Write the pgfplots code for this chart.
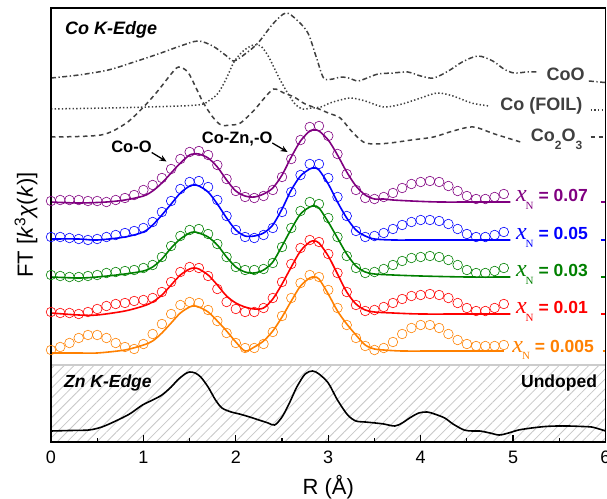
\documentclass[border=0pt]{standalone}
\usepackage{fontspec}
\setmainfont{Liberation Sans}
\newfontfamily\seriffont{Liberation Serif}
\usepackage{pgfplots}
\pgfplotsset{compat=1.18}
\usetikzlibrary{patterns.meta,arrows.meta}
\definecolor{cpurple}{RGB}{128,0,128}
\definecolor{cblue}{RGB}{0,0,255}
\definecolor{cgreen}{RGB}{0,128,0}
\definecolor{cred}{RGB}{255,0,0}
\definecolor{corange}{RGB}{255,128,0}
\definecolor{refgray}{RGB}{64,64,64}
\newcommand{\xN}[1]{{\seriffont\itshape\fontsize{24bp}{24bp}\selectfont x}\kern-1bp\raisebox{-7.5bp}{\seriffont\fontsize{11bp}{11bp}\selectfont N}\kern5bp{\bfseries\fontsize{17.5bp}{17.5bp}\selectfont = #1}}
\begin{document}
\begin{tikzpicture}
\useasboundingbox (-51bp,-57bp) rectangle (556bp,442bp);
\begin{axis}[
  at={(0,0)}, anchor=south west, scale only axis,
  width=554.5bp, height=434bp,
  xmin=0, xmax=6, ymin=0, ymax=434,
  axis on top,
  axis line style={line width=1.8bp},
  ytick=\empty,
  xtick={0,1,2,3,4,5,6}, minor x tick num=1, xtick pos=bottom,
  tick align=inside, major tick length=7bp, minor tick length=4bp,
  tick style={black, line width=1.2bp},
  /pgf/number format/assume math mode=true,
  xticklabel style={font=\fontsize{18bp}{18bp}\selectfont, anchor=base, yshift=-21bp},
  xlabel={R (Å)},
  xlabel style={font=\fontsize{22bp}{22bp}\selectfont, at={(axis description cs:0.5,0)}, anchor=base, yshift=-52bp},
  ylabel={FT [\textit{k}\textsuperscript{3}\textit{χ}(\textit{k})]},
  ylabel style={font=\fontsize{22bp}{22bp}\selectfont, at={(axis description cs:-0.045,0.5)}, anchor=center},
  clip=true,
]
% hatched Zn region
\addplot[draw=none, pattern={Lines[angle=45, distance=7bp, line width=0.8bp]}, pattern color=black!22] coordinates {(0,0)(6,0)(6,77)(0,77)} -- cycle;
\addplot[black!20, line width=1.6bp] coordinates {(0,77)(6,77)};
% Zn K-edge
\addplot[black, line width=1.6bp, smooth] coordinates {
(0,11)(0.2,11.5)(0.41,12)(0.55,15)(0.7,21)(0.85,28)(0.99,37)(1.1,42)(1.2,47)(1.3,55)(1.37,62)(1.45,68)(1.5,70)(1.56,69)(1.62,65)(1.7,55)(1.78,42)(1.85,34)(1.95,30)(2.04,28)(2.15,25)(2.25,22)(2.35,19)(2.42,17)(2.5,25)(2.58,39)(2.66,55)(2.75,68)(2.83,71)(2.9,68)(3.0,59)(3.1,42)(3.21,27)(3.3,21)(3.4,20)(3.51,19)(3.6,18)(3.72,16)(3.8,19)(3.88,24)(3.98,29)(4.07,30)(4.15,28)(4.26,24)(4.35,18)(4.47,12)(4.56,11)(4.64,11)(4.75,9)(4.85,7)(4.95,9)(5.06,12)(5.2,14)(5.35,15.5)(5.48,16)(5.6,16)(5.75,15.5)(5.85,15)(5.95,12.5)(6,11)};
% reference spectra
\addplot[refgray, line width=1.5bp, smooth, dash pattern=on 5bp off 2.5bp on 1.3bp off 2.5bp] coordinates {
(0,364)(0.3,367)(0.62,372)(0.9,380)(1.19,389)(1.4,396)(1.59,401)(1.75,396)(1.9,386)(1.98,381)(2.1,388)(2.24,399)(2.4,418)(2.54,429)(2.66,422)(2.78,409)(2.87,385)(2.95,364)(3.05,363)(3.13,365)(3.22,364)(3.32,361)(3.42,364)(3.54,368)(3.7,369)(3.86,370)(4.0,366)(4.14,364)(4.3,371)(4.45,380)(4.62,386)(4.78,381)(4.9,373)(5.01,369)(5.15,370)(5.27,370)};
\addplot[refgray, line width=1.5bp, dash pattern=on 5bp off 2.5bp on 1.3bp off 2.5bp] coordinates {(5.82,361)(6.05,359)};
\addplot[refgray, line width=1.5bp, smooth, dash pattern=on 1.4bp off 2.2bp] coordinates {
(0,333)(0.62,334)(1.05,335)(1.59,337)(1.72,342)(1.81,349)(1.9,364)(1.98,380)(2.08,391)(2.19,397)(2.27,396)(2.35,386)(2.41,375)(2.48,362)(2.56,349)(2.64,338)(2.72,333)(2.82,334)(2.92,335)(3.02,339)(3.13,342)(3.25,344)(3.4,341)(3.6,335)(3.8,338)(4.0,344)(4.18,349)(4.35,346)(4.55,339)(4.74,336)};
\addplot[refgray, line width=1.5bp, dash pattern=on 1.4bp off 2.2bp] coordinates {(5.84,332)(6.05,332)};
\addplot[refgray, line width=1.5bp, smooth, dash pattern=on 4.5bp off 3.5bp] coordinates {
(0,305)(0.54,307)(0.8,318)(0.97,332)(1.1,345)(1.19,355)(1.3,368)(1.38,375)(1.48,370)(1.57,354)(1.65,339)(1.75,325)(1.84,317)(1.95,317)(2.05,319)(2.2,332)(2.3,343)(2.41,353)(2.52,349)(2.63,345)(2.75,338)(2.9,333)(3.0,329)(3.13,324)(3.25,311)(3.38,300)(3.5,298)(3.67,299)(3.9,302)(4.14,305)(4.35,311)(4.57,315)(4.8,308)(5.08,300)};
\addplot[refgray, line width=1.5bp, dash pattern=on 4.5bp off 3.5bp] coordinates {(5.84,305)(6.05,305)};
% ---- x = 0.07 (purple)
\addplot[cpurple, only marks, mark=o, mark size=4.8bp, mark options={line width=0.6bp}] coordinates {
(0,241)(0.1,242)(0.2,242)(0.3,242)(0.4,241)(0.5,241)(0.6,240)(0.7,242)(0.8,244)(0.9,247)(1.0,252)(1.1,257)(1.2,264)(1.3,273)(1.4,283)(1.5,290)(1.6,291)(1.7,287)(1.8,277)(1.9,263)(2.0,251)(2.1,245)(2.2,244)(2.3,246)(2.4,252)(2.5,265)(2.6,283)(2.7,302)(2.8,315)(2.9,316)(3.0,306)(3.1,288)(3.2,268)(3.3,252)(3.4,244)(3.5,243)(3.6,245)(3.7,249)(3.8,254)(3.9,258)(4.0,260)(4.1,261)(4.2,260)(4.3,256)(4.4,251)(4.5,246)(4.6,243)(4.7,243)(4.8,245)(4.9,248)};
\addplot[cpurple, line width=1.6bp, smooth] coordinates {
(0,240)(0.3,239)(0.6,240)(0.8,242)(1.0,246)(1.1,251)(1.2,259)(1.3,269)(1.4,279)(1.5,287)(1.55,288)(1.6,288)(1.7,284)(1.8,275)(1.9,262)(2.0,251)(2.1,246)(2.2,245)(2.3,248)(2.4,254)(2.5,267)(2.6,285)(2.7,301)(2.8,311)(2.85,312)(2.9,311)(3.0,302)(3.1,287)(3.2,270)(3.3,256)(3.4,247)(3.5,243)(3.6,243)(3.7,242)(3.9,241)(4.2,240)(4.6,240)(4.97,240)};
% ---- x = 0.05 (blue)
\addplot[cblue, only marks, mark=o, mark size=4.8bp, mark options={line width=0.6bp}] coordinates {
(0,205)(0.1,205)(0.2,204)(0.3,203)(0.4,202)(0.5,203)(0.6,205)(0.7,207)(0.8,209)(0.9,211)(1.0,214)(1.1,220)(1.2,230)(1.3,241)(1.4,253)(1.5,260)(1.6,261)(1.7,255)(1.8,242)(1.9,226)(2.0,212)(2.1,205)(2.2,204)(2.3,207)(2.4,214)(2.5,230)(2.6,250)(2.7,267)(2.8,278)(2.9,278)(3.0,264)(3.1,245)(3.2,226)(3.3,211)(3.4,205)(3.5,206)(3.6,209)(3.7,213)(3.8,217)(3.9,220)(4.0,222)(4.1,222)(4.2,221)(4.3,218)(4.4,213)(4.5,208)(4.6,205)(4.7,205)(4.8,207)(4.9,210)};
\addplot[cblue, line width=1.6bp, smooth] coordinates {
(0,203)(0.3,203)(0.5,202)(0.8,205)(1.0,210)(1.1,217)(1.2,227)(1.3,238)(1.4,249)(1.5,256)(1.55,257)(1.6,256)(1.7,250)(1.8,238)(1.9,224)(2.0,212)(2.1,206)(2.2,206)(2.3,209)(2.4,217)(2.5,233)(2.6,252)(2.7,266)(2.8,273)(2.85,274)(2.9,272)(3.0,258)(3.1,240)(3.2,224)(3.3,212)(3.4,206)(3.5,203)(3.7,202)(4.0,202)(4.5,202)(4.97,202)};
% ---- x = 0.03 (green)
\addplot[cgreen, only marks, mark=o, mark size=4.8bp, mark options={line width=0.6bp}] coordinates {
(0,167)(0.1,166)(0.2,165)(0.3,165)(0.4,166)(0.5,167)(0.6,169)(0.7,170)(0.8,171)(0.9,172)(1.0,174)(1.1,177)(1.2,185)(1.3,196)(1.4,206)(1.5,212)(1.6,213)(1.7,208)(1.8,198)(1.9,185)(2.0,175)(2.1,172)(2.2,172)(2.3,173)(2.4,179)(2.5,195)(2.6,214)(2.7,231)(2.8,240)(2.9,238)(3.0,224)(3.1,205)(3.2,186)(3.3,174)(3.4,169)(3.5,170)(3.6,173)(3.7,177)(3.8,181)(3.9,184)(4.0,185)(4.1,186)(4.2,185)(4.3,182)(4.4,177)(4.5,172)(4.6,169)(4.7,169)(4.8,171)(4.9,174)};
\addplot[cgreen, line width=1.6bp, smooth] coordinates {
(0,165)(0.3,164)(0.5,165)(0.8,168)(1.0,171)(1.1,175)(1.2,183)(1.3,194)(1.4,203)(1.5,209)(1.55,210)(1.6,209)(1.7,205)(1.8,197)(1.9,185)(2.0,175)(2.1,170)(2.2,169)(2.3,172)(2.4,180)(2.5,196)(2.6,213)(2.7,228)(2.8,235)(2.85,236)(2.9,234)(3.0,220)(3.1,204)(3.2,188)(3.3,176)(3.4,170)(3.5,168)(3.7,167)(4.0,166)(4.5,165)(4.97,165)};
% ---- x = 0.01 (red)
\addplot[cred, only marks, mark=o, mark size=4.8bp, mark options={line width=0.6bp}] coordinates {
(0,130)(0.1,129)(0.2,129)(0.3,128)(0.4,130)(0.5,133)(0.6,136)(0.7,138)(0.8,139)(0.9,141)(1.0,142)(1.1,144)(1.2,150)(1.3,160)(1.4,170)(1.5,175)(1.6,174)(1.7,166)(1.8,153)(1.9,140)(2.0,133)(2.1,130)(2.2,130)(2.3,134)(2.4,144)(2.5,160)(2.6,178)(2.7,194)(2.8,202)(2.9,200)(3.0,188)(3.1,169)(3.2,150)(3.3,137)(3.4,131)(3.5,132)(3.6,135)(3.7,139)(3.8,143)(3.9,146)(4.0,147)(4.1,148)(4.2,147)(4.3,144)(4.4,139)(4.5,134)(4.6,131)(4.7,131)(4.8,134)(4.9,138)};
\addplot[cred, line width=1.6bp, smooth] coordinates {
(0,129)(0.3,127)(0.5,127)(0.8,131)(1.0,136)(1.1,140)(1.2,147)(1.3,157)(1.4,167)(1.5,173)(1.55,174)(1.6,173)(1.7,167)(1.8,157)(1.9,146)(2.0,139)(2.1,135)(2.2,133)(2.3,134)(2.4,143)(2.5,158)(2.6,175)(2.7,191)(2.8,200)(2.85,201)(2.9,199)(3.0,186)(3.1,168)(3.2,150)(3.3,138)(3.4,132)(3.5,130)(3.7,129)(4.0,128)(4.5,128)(4.97,128)};
% ---- x = 0.005 (orange)
\addplot[corange, only marks, mark=o, mark size=4.8bp, mark options={line width=0.6bp}] coordinates {
(0,92)(0.1,95)(0.2,99)(0.3,104)(0.4,107)(0.5,107)(0.6,104)(0.7,99)(0.8,95)(0.9,93)(1.0,98)(1.1,108)(1.2,118)(1.3,128)(1.4,137)(1.5,140)(1.6,139)(1.7,132)(1.8,121)(1.9,109)(2.0,99)(2.1,94)(2.2,94)(2.3,98)(2.4,110)(2.5,126)(2.6,144)(2.7,159)(2.8,167)(2.9,165)(3.0,152)(3.1,134)(3.2,117)(3.3,104)(3.4,96)(3.5,92)(3.6,94)(3.7,100)(3.8,108)(3.9,114)(4.0,117)(4.1,117)(4.2,114)(4.3,108)(4.4,102)(4.5,98)(4.6,96)(4.7,96)(4.8,96)(4.9,97)};
\addplot[corange, line width=1.6bp, smooth] coordinates {
(0,89)(0.3,89)(0.5,89)(0.8,92)(1.0,97)(1.1,101)(1.2,109)(1.3,119)(1.4,129)(1.5,135)(1.55,136)(1.6,135)(1.7,130)(1.8,121)(1.9,111)(2.0,100)(2.1,91)(2.2,95)(2.3,101)(2.4,111)(2.5,125)(2.6,141)(2.7,156)(2.8,164)(2.85,165)(2.9,163)(3.0,148)(3.1,131)(3.2,118)(3.3,107)(3.4,97)(3.5,93)(3.6,92)(3.8,91)(4.2,91)(4.6,91)(4.9,91)};
% clipped legend samples at right edge
\addplot[cpurple, line width=1.4bp] coordinates {(5.95,240)(6.1,240)};
\addplot[cpurple, only marks, mark=o, mark size=4bp, mark options={line width=0.6bp}] coordinates {(6.02,244)};
\addplot[cblue, line width=1.4bp] coordinates {(5.95,202)(6.1,202)};
\addplot[cblue, only marks, mark=o, mark size=4bp, mark options={line width=0.6bp}] coordinates {(6.02,206)};
\addplot[cgreen, line width=1.4bp] coordinates {(5.95,165)(6.1,165)};
\addplot[cgreen, only marks, mark=o, mark size=4bp, mark options={line width=0.6bp}] coordinates {(6.02,169)};
\addplot[cred, line width=1.4bp] coordinates {(5.95,128)(6.1,128)};
\addplot[cred, only marks, mark=o, mark size=4bp, mark options={line width=0.6bp}] coordinates {(6.02,132)};
\addplot[corange, line width=1.4bp] coordinates {(5.97,91)(6.1,91)};
\addplot[corange, only marks, mark=o, mark size=4bp, mark options={line width=0.6bp}] coordinates {(6.02,95)};
% labels
\node[anchor=base west, inner sep=0, font=\bfseries\itshape\fontsize{18bp}{18bp}\selectfont] at (axis cs:0.15,407) {Co K-Edge};
\node[anchor=base west, inner sep=0, font=\bfseries\itshape\fontsize{17.5bp}{17.5bp}\selectfont] at (axis cs:0.14,55) {Zn K-Edge};
\node[anchor=base east, inner sep=0, font=\bfseries\fontsize{17.5bp}{17.5bp}\selectfont] at (axis cs:5.91,55) {Undoped};
\node[anchor=base west, inner sep=0, text=refgray, font=\bfseries\fontsize{18bp}{18bp}\selectfont] at (axis cs:5.36,361) {CoO};
\node[anchor=base west, inner sep=0, text=refgray, font=\bfseries\fontsize{18bp}{18bp}\selectfont] at (axis cs:4.86,331) {Co (FOIL)};
\node[anchor=base west, inner sep=0, text=refgray, font=\bfseries\fontsize{18bp}{18bp}\selectfont] at (axis cs:5.19,300) {Co\raisebox{-8bp}{\fontsize{12bp}{12bp}\selectfont 2}O\raisebox{-8bp}{\fontsize{12bp}{12bp}\selectfont 3}};
\node[anchor=base west, inner sep=0, font=\bfseries\fontsize{16.5bp}{16.5bp}\selectfont] at (axis cs:0.65,289) {Co-O};
\draw[-{Stealth[length=7bp,width=6bp]}, line width=1.3bp] (axis cs:1.09,289.5) -- (axis cs:1.25,280.5);
\node[anchor=base west, inner sep=0, font=\bfseries\fontsize{16.5bp}{16.5bp}\selectfont] at (axis cs:1.63,298) {Co-Zn,-O};
\draw[-{Stealth[length=7bp,width=6bp]}, line width=1.3bp] (axis cs:2.395,299) -- (axis cs:2.56,290);
\node[anchor=base west, inner sep=0, text=cpurple] at (axis cs:5.03,240) {\xN{0.07}};
\node[anchor=base west, inner sep=0, text=cblue] at (axis cs:5.03,202) {\xN{0.05}};
\node[anchor=base west, inner sep=0, text=cgreen] at (axis cs:5.03,165) {\xN{0.03}};
\node[anchor=base west, inner sep=0, text=cred] at (axis cs:5.03,128) {\xN{0.01}};
\node[anchor=base west, inner sep=0, text=corange] at (axis cs:4.99,90) {\xN{0.005}};
\end{axis}
\end{tikzpicture}
\end{document}
